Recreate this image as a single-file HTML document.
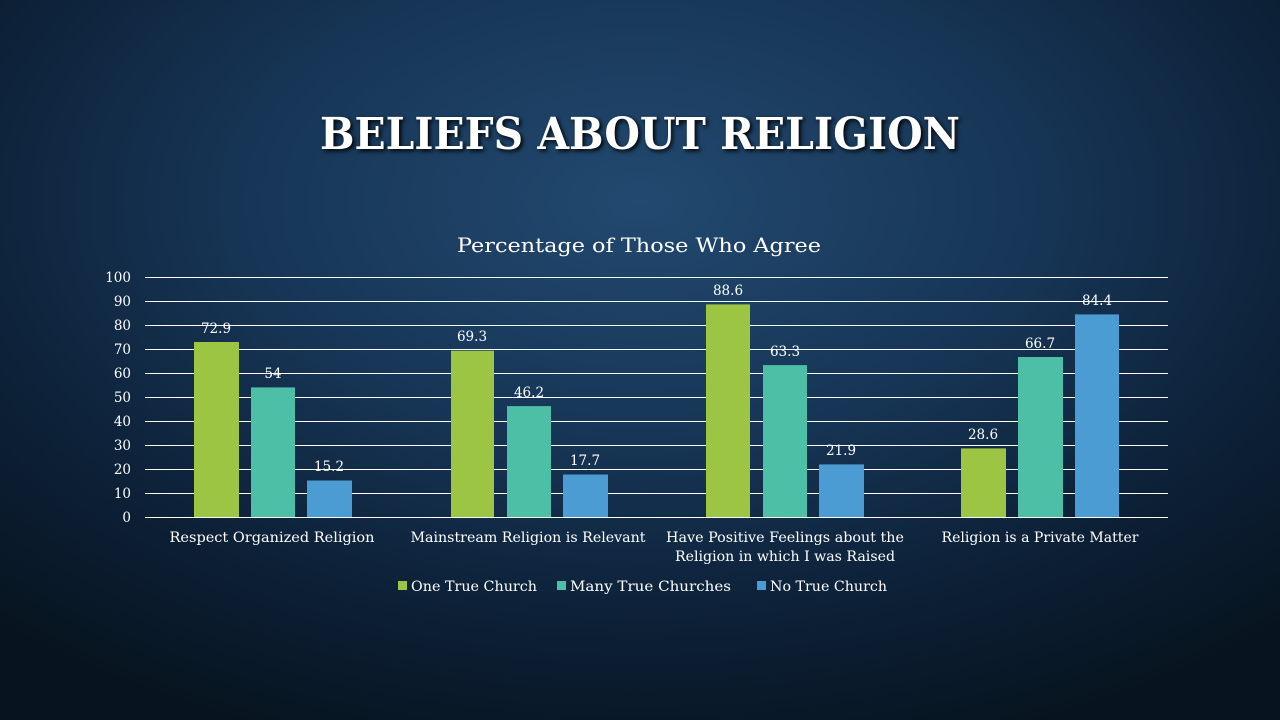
<!DOCTYPE html>
<html><head><meta charset="utf-8"><style>
html,body{margin:0;padding:0;width:1280px;height:720px;overflow:hidden}
body{background:radial-gradient(ellipse 75% 80% at 50% 28%,#22496f 0%,#173657 40%,#0c1f35 75%,#07141f 100%)}
svg{position:absolute;left:0;top:0}
text{font-family:"DejaVu Serif","Liberation Serif",serif;fill:#fff}
</style></head><body>
<svg width="1280" height="720" viewBox="0 0 1280 720">
<text x="640" y="149" text-anchor="middle" font-size="44" font-weight="bold" textLength="640" lengthAdjust="spacingAndGlyphs" style="filter:drop-shadow(2px 2px 2px #000)">BELIEFS ABOUT RELIGION</text>
<text x="639" y="252" text-anchor="middle" font-size="20" textLength="364" lengthAdjust="spacingAndGlyphs">Percentage of Those Who Agree</text>
<g stroke="#ffffff" stroke-width="1">
<line x1="145" x2="1168" y1="277.5" y2="277.5"/><line x1="145" x2="1168" y1="301.5" y2="301.5"/>
<line x1="145" x2="1168" y1="325.5" y2="325.5"/><line x1="145" x2="1168" y1="349.5" y2="349.5"/>
<line x1="145" x2="1168" y1="373.5" y2="373.5"/><line x1="145" x2="1168" y1="397.5" y2="397.5"/>
<line x1="145" x2="1168" y1="421.5" y2="421.5"/><line x1="145" x2="1168" y1="445.5" y2="445.5"/>
<line x1="145" x2="1168" y1="469.5" y2="469.5"/><line x1="145" x2="1168" y1="493.5" y2="493.5"/>
<line x1="145" x2="1168" y1="517.5" y2="517.5"/>
</g>
<g font-size="13.5" text-anchor="end">
<text x="131" y="282">100</text><text x="131" y="306">90</text><text x="131" y="330">80</text>
<text x="131" y="354">70</text><text x="131" y="378">60</text><text x="131" y="402">50</text>
<text x="131" y="426">40</text><text x="131" y="450">30</text><text x="131" y="474">20</text>
<text x="131" y="498">10</text><text x="131" y="522">0</text>
</g>
<g>
<rect x="194" y="342" width="45" height="175" fill="#9dc544"/>
<rect x="251" y="387.4" width="44" height="129.6" fill="#4dbfa6"/>
<rect x="307" y="480.5" width="45" height="36.5" fill="#4a9cd2"/>
<rect x="451" y="350.7" width="43" height="166.3" fill="#9dc544"/>
<rect x="507" y="406.1" width="44" height="110.9" fill="#4dbfa6"/>
<rect x="563" y="474.5" width="45" height="42.5" fill="#4a9cd2"/>
<rect x="706" y="304.4" width="44" height="212.6" fill="#9dc544"/>
<rect x="763" y="365.1" width="44" height="151.9" fill="#4dbfa6"/>
<rect x="819" y="464.4" width="45" height="52.6" fill="#4a9cd2"/>
<rect x="961" y="448.4" width="45" height="68.6" fill="#9dc544"/>
<rect x="1018" y="357" width="45" height="160" fill="#4dbfa6"/>
<rect x="1075" y="314.4" width="44" height="202.6" fill="#4a9cd2"/>
</g>
<g font-size="13.5" text-anchor="middle">
<text x="216" y="333">72.9</text>
<text x="273" y="378">54</text>
<text x="329" y="471">15.2</text>
<text x="472" y="341">69.3</text>
<text x="529" y="397">46.2</text>
<text x="585" y="465">17.7</text>
<text x="728" y="295">88.6</text>
<text x="785" y="356">63.3</text>
<text x="841" y="455">21.9</text>
<text x="983" y="439">28.6</text>
<text x="1040" y="348">66.7</text>
<text x="1097" y="305">84.4</text>
</g>
<g font-size="14" text-anchor="middle">
<text x="272" y="542" textLength="205" lengthAdjust="spacingAndGlyphs">Respect Organized Religion</text>
<text x="528" y="542" textLength="235" lengthAdjust="spacingAndGlyphs">Mainstream Religion is Relevant</text>
<text x="785" y="542" textLength="238" lengthAdjust="spacingAndGlyphs">Have Positive Feelings about the</text>
<text x="785" y="561" textLength="220" lengthAdjust="spacingAndGlyphs">Religion in which I was Raised</text>
<text x="1040" y="542" textLength="197" lengthAdjust="spacingAndGlyphs">Religion is a Private Matter</text>
</g>
<g font-size="14">
<rect x="398" y="581" width="9" height="9" fill="#9dc544"/><text x="411" y="591" textLength="126" lengthAdjust="spacingAndGlyphs">One True Church</text>
<rect x="557" y="581" width="9" height="9" fill="#4dbfa6"/><text x="570" y="591" textLength="161" lengthAdjust="spacingAndGlyphs">Many True Churches</text>
<rect x="757" y="581" width="9" height="9" fill="#4a9cd2"/><text x="770" y="591" textLength="117" lengthAdjust="spacingAndGlyphs">No True Church</text>
</g>
</svg>
</body></html>
